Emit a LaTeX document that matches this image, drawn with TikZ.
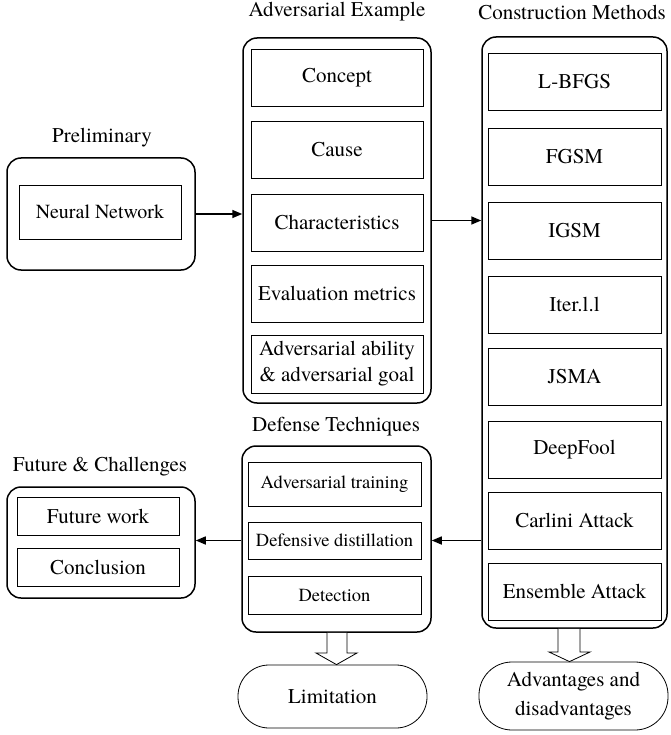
\documentclass[tikz,border=0pt]{standalone}
\usepackage{fontspec}
\setmainfont{texgyretermes}[Extension=.otf,UprightFont=*-regular,BoldFont=*-bold,ItalicFont=*-italic,BoldItalicFont=*-bolditalic]
\usetikzlibrary{arrows.meta,calc}
\begin{document}
\begin{tikzpicture}[x=1pt,y=-1pt,
  outerbox/.style={draw,line width=1.5pt,rounded corners=14pt,minimum width=188pt,inner sep=0pt},
  itembox/.style={draw,line width=0.7pt,align=center,inner sep=0pt,font=\fontsize{21}{26}\selectfont},
  smallitem/.style={itembox,font=\fontsize{18.5}{22}\selectfont},
  title/.style={font=\fontsize{21}{25}\selectfont,inner sep=0pt},
  stadium/.style={draw,line width=0.8pt,rounded corners=31pt,align=center,inner sep=0pt,font=\fontsize{21}{29}\selectfont},
  conn/.style={line width=1.5pt,-{Triangle[length=10pt,width=8pt]}},
  blockarrow/.style={draw,line width=0.8pt,fill=white}
]
\useasboundingbox (0,0) rectangle (670,735);

% Preliminary
\node[title] (tprelim) at (102,138) {Preliminary};
\node[outerbox,minimum height=112pt] (prelim) at (101,214) {};
\node[itembox,minimum width=162pt,minimum height=54pt,font=\fontsize{20}{24}\selectfont] (nn) at (100,212) {Neural Network};

% Adversarial Example
\node[title] (tadv) at (337,12) {Adversarial Example};
\node[outerbox,minimum height=365pt] (adv) at (337,220.5) {};
\node[itembox,minimum width=172pt,minimum height=57pt] (concept) at (337,77.5) {Concept};
\node[itembox,minimum width=172pt,minimum height=57pt] (cause) at (337,149.5) {Cause};
\node[itembox,minimum width=172pt,minimum height=57pt] (charac) at (337,222.5) {Characteristics};
\node[itembox,minimum width=172pt,minimum height=57pt] (evalm) at (337,293.5) {Evaluation metrics};
\node[itembox,minimum width=172pt,minimum height=58pt] (ability) at (337,364) {Adversarial ability\\\& adversarial goal};

% Construction Methods
\node[title] (tcon) at (572,12) {Construction Methods};
\node[outerbox,minimum width=185pt,minimum height=591pt] (con) at (574.5,332.5) {};
\node[itembox,minimum width=173pt,minimum height=57pt] (lbfgs) at (574.5,81.5) {L-BFGS};
\node[itembox,minimum width=173pt,minimum height=57pt,line width=0.95pt] (fgsm) at (574.5,156.5) {FGSM};
\node[itembox,minimum width=173pt,minimum height=57pt] (igsm) at (574.5,230.5) {IGSM};
\node[itembox,minimum width=173pt,minimum height=57pt] (iter) at (574.5,304.5) {Iter.l.l};
\node[itembox,minimum width=173pt,minimum height=57pt] (jsma) at (574.5,376.5) {JSMA};
\node[itembox,minimum width=173pt,minimum height=57pt] (deepfool) at (574.5,449.5) {DeepFool};
\node[itembox,minimum width=173pt,minimum height=57pt] (carlini) at (574.5,520.5) {Carlini Attack};
\node[itembox,minimum width=173pt,minimum height=57pt] (ensemble) at (574.5,591.5) {Ensemble Attack};

% Defense Techniques
\node[title] (tdef) at (336,427) {Defense Techniques};
\node[outerbox,minimum width=189pt,minimum height=186pt] (def) at (336.5,539) {};
\node[smallitem,minimum width=173pt,minimum height=44pt] (advtrain) at (334.5,484) {Adversarial training};
\node[smallitem,minimum width=173pt,minimum height=37pt] (defdist) at (334.5,540.5) {Defensive distillation};
\node[smallitem,minimum width=173pt,minimum height=38pt] (detect) at (334.5,595) {Detection};

% Future & Challenges
\node[title] (tfut) at (100,467) {Future \& Challenges};
\node[outerbox,minimum height=111pt] (fut) at (101,542.5) {};
\node[itembox,minimum width=162pt,minimum height=38pt] (futwork) at (98,516) {Future work};
\node[itembox,minimum width=162pt,minimum height=38pt] (concl) at (98,567) {Conclusion};

% Bottom terminals
\node[stadium,minimum width=189pt,minimum height=63pt] (lim) at (332.5,696.5) {Limitation};
\node[stadium,minimum width=189pt,minimum height=68pt,rounded corners=33pt] (advdis) at (573.5,696) {Advantages and\\disadvantages};

% Connectors
\draw[conn] (prelim.east) -- (prelim.east -| adv.west);
\draw[conn] ($(adv.east |- charac.center)+(0,-2)$) -- ($(con.west |- charac.center)+(0,-2)$);
\draw[conn] (con.west |- defdist.center) -- (def.east |- defdist.center);
\draw[conn] (def.west |- defdist.center) -- (fut.east |- defdist.center);

% Block arrows
\draw[blockarrow] (def.south -| 327,0) -- (327,653) -- (316,653) -- (lim.north -| 336.5,0) -- (357,653) -- (347,653) -- (def.south -| 347,0);
\draw[blockarrow] (con.south -| 558,0) -- (558,652) -- (549,652) -- (advdis.north -| 569.5,0) -- (590,652) -- (580,652) -- (con.south -| 580,0);
\end{tikzpicture}
\end{document}
